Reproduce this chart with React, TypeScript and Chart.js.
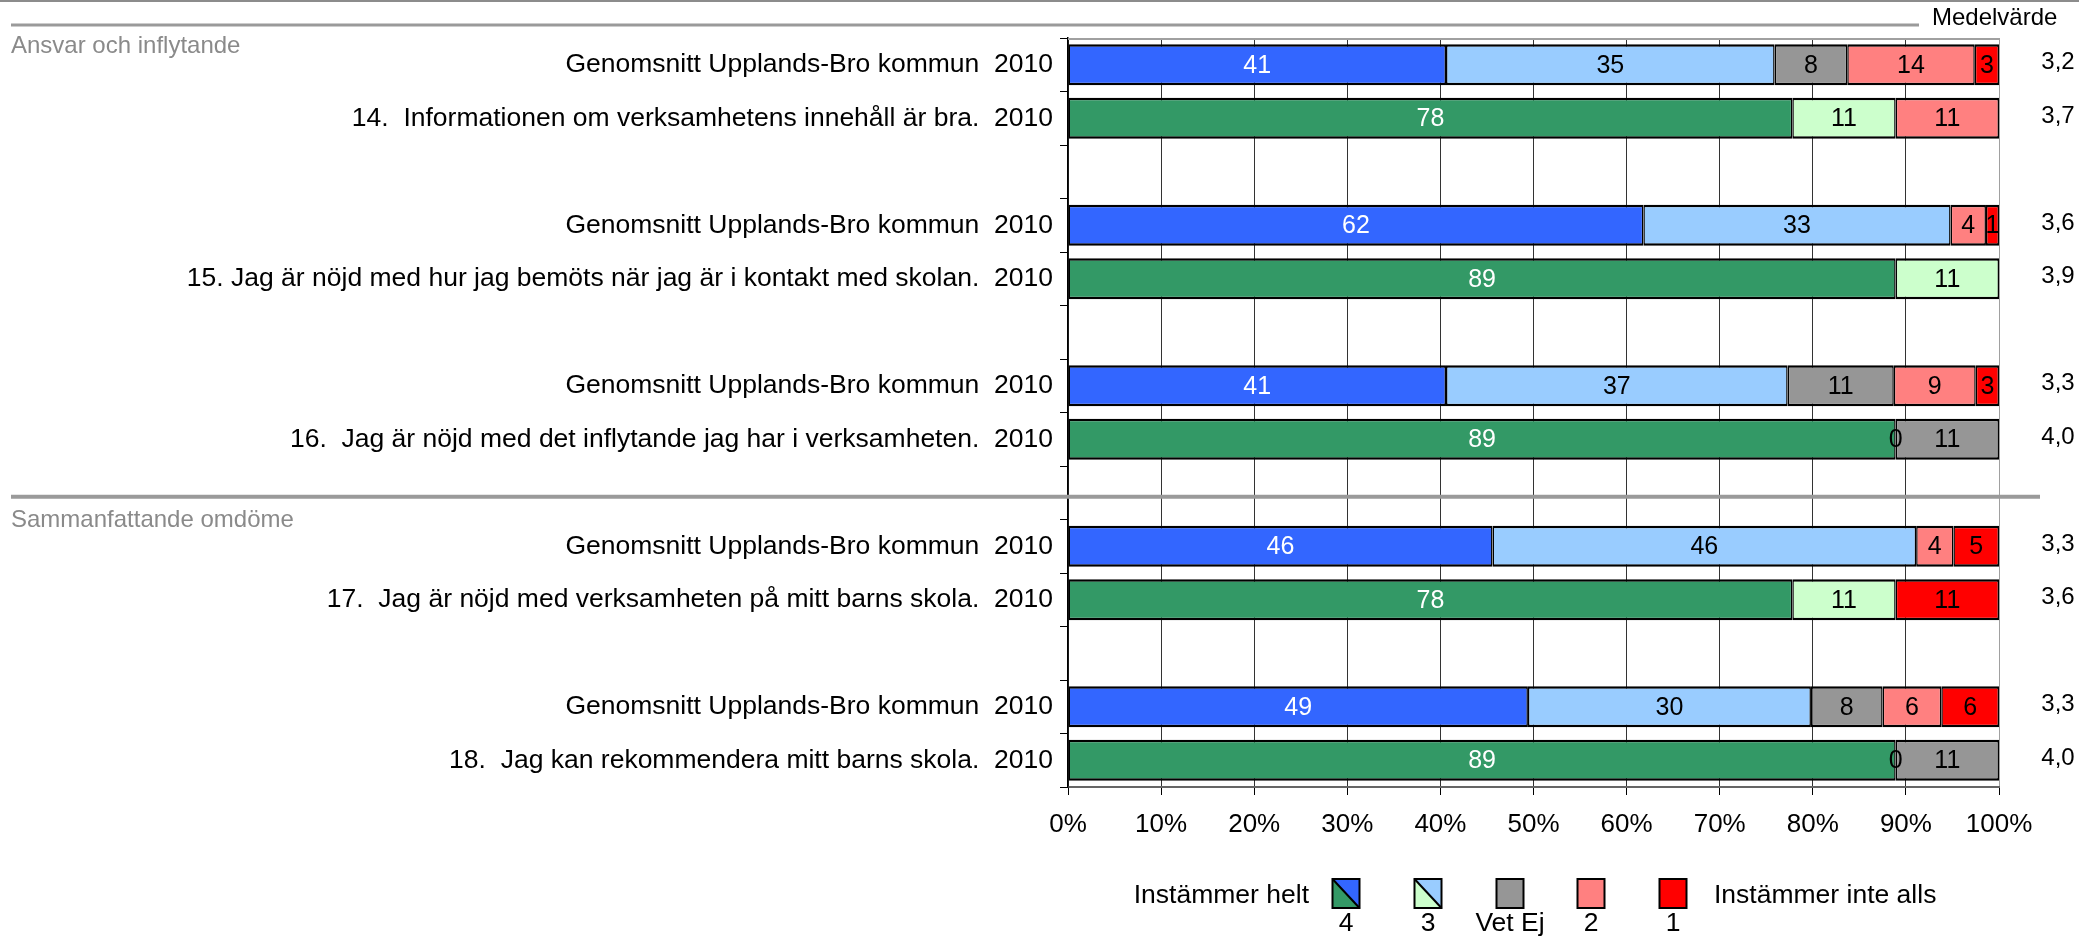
import React, { useEffect, useRef } from "react";
import { Chart, registerables } from "chart.js";

Chart.register(...registerables);

const FONT = "'Liberation Sans', Arial, Helvetica, sans-serif";

// ---- data ----
const rowLabels = [
  "Genomsnitt Upplands-Bro kommun  2010",
  "14.  Informationen om verksamhetens innehåll är bra.  2010",
  "",
  "Genomsnitt Upplands-Bro kommun  2010",
  "15. Jag är nöjd med hur jag bemöts när jag är i kontakt med skolan.  2010",
  "",
  "Genomsnitt Upplands-Bro kommun  2010",
  "16.  Jag är nöjd med det inflytande jag har i verksamheten.  2010",
  "",
  "Genomsnitt Upplands-Bro kommun  2010",
  "17.  Jag är nöjd med verksamheten på mitt barns skola.  2010",
  "",
  "Genomsnitt Upplands-Bro kommun  2010",
  "18.  Jag kan rekommendera mitt barns skola.  2010",
];
const rowKinds = ["avg", "q", "", "avg", "q", "", "avg", "q", "", "avg", "q", "", "avg", "q"];

const seriesNames = ["4", "3", "Vet Ej", "2", "1"];
const s4 = [40.6, 77.8, null, 61.8, 88.9, null, 40.6, 88.9, null, 45.6, 77.8, null, 49.4, 88.9];
const s3 = [35.3, 11.1, null, 33.0, 11.1, null, 36.7, 0, null, 45.5, 11.1, null, 30.4, 0];
const sVetEj = [7.8, null, null, null, null, null, 11.4, 11.1, null, null, null, null, 7.7, 11.1];
const s2 = [13.7, 11.1, null, 3.8, null, null, 8.8, null, null, 4.0, null, null, 6.3, null];
const s1 = [2.6, null, null, 1.4, null, null, 2.5, null, null, 4.9, 11.1, null, 6.2, null];

const means = ["3,2", "3,7", "", "3,6", "3,9", "", "3,3", "4,0", "", "3,3", "3,6", "", "3,3", "4,0"];

const xTicks = [0, 10, 20, 30, 40, 50, 60, 70, 80, 90, 100];

const sections = [
  { label: "Ansvar och inflytande", row: 0 },
  { label: "Sammanfattande omdöme", row: 9 },
];

const legendLeftText = "Instämmer helt";
const legendRightText = "Instämmer inte alls";
const meanHeader = "Medelvärde";

// ---- colours ----
const C_BLUE = "#3366FF";
const C_GREEN = "#339966";
const C_LBLUE = "#99CCFF";
const C_LGREEN = "#CCFFCC";
const C_GRAY = "#969696";
const C_SALMON = "#FF8080";
const C_RED = "#FF0000";

const seriesData = [s4, s3, sVetEj, s2, s1];
const seriesColors = [
  rowKinds.map((k) => (k === "avg" ? C_BLUE : C_GREEN)),
  rowKinds.map((k) => (k === "avg" ? C_LBLUE : C_LGREEN)),
  rowKinds.map(() => C_GRAY),
  rowKinds.map(() => C_SALMON),
  rowKinds.map(() => C_RED),
];

const dataLabelPlugin = {
  id: "dataLabels",
  afterDatasetsDraw(chart: any) {
    const ctx = chart.ctx;
    ctx.save();
    ctx.font = `25px ${FONT}`;
    ctx.textAlign = "center";
    ctx.textBaseline = "middle";
    chart.data.datasets.forEach((ds: any, di: number) => {
      const meta = chart.getDatasetMeta(di);
      meta.data.forEach((el: any, i: number) => {
        const v = ds.data[i];
        if (v === null || v === undefined) return;
        const cx = (el.x + el.base) / 2;
        ctx.fillStyle = di === 0 ? "#FFFFFF" : "#000000";
        ctx.fillText(String(Math.round(v)), cx, el.y + 1);
      });
    });
    ctx.restore();
  },
};

const decorPlugin = {
  id: "decor",
  afterDraw(chart: any) {
    const ctx = chart.ctx;
    const area = chart.chartArea;
    const yScale = chart.scales.y;
    ctx.save();

    // top thin line
    ctx.strokeStyle = "#8c8c8c";
    ctx.lineWidth = 2;
    ctx.beginPath();
    ctx.moveTo(0, 1);
    ctx.lineTo(2079, 1);
    ctx.stroke();

    // header line
    ctx.strokeStyle = "#9a9a9a";
    ctx.lineWidth = 3;
    ctx.beginPath();
    ctx.moveTo(11, 25);
    ctx.lineTo(1919, 25);
    ctx.stroke();

    // header text
    ctx.fillStyle = "#000";
    ctx.font = `24px ${FONT}`;
    ctx.textAlign = "left";
    ctx.textBaseline = "middle";
    ctx.fillText(meanHeader, 1932, 18);

    // plot top border
    ctx.strokeStyle = "#a0a0a0";
    ctx.lineWidth = 2;
    ctx.beginPath();
    ctx.moveTo(area.left, area.top + 1);
    ctx.lineTo(area.right, area.top + 1);
    ctx.stroke();

    // section divider(s) & labels
    const step = (area.bottom - area.top) / rowLabels.length;
    sections.forEach((s, i) => {
      const slotTop = area.top + s.row * step;
      if (i > 0) {
        const dy = slotTop - step / 2 + 4;
        ctx.strokeStyle = "#9a9a9a";
        ctx.lineWidth = 4;
        ctx.beginPath();
        ctx.moveTo(11, dy);
        ctx.lineTo(2040, dy);
        ctx.stroke();
      }
      ctx.fillStyle = "#8a8a8a";
      ctx.font = `24px ${FONT}`;
      ctx.textAlign = "left";
      ctx.textBaseline = "middle";
      ctx.fillText(s.label, 11, i === 0 ? slotTop + 8 : slotTop + 1);
    });

    // mean values
    ctx.fillStyle = "#000";
    ctx.font = `24px ${FONT}`;
    ctx.textAlign = "center";
    ctx.textBaseline = "middle";
    means.forEach((m, i) => {
      if (!m) return;
      ctx.fillText(m, 2058, yScale.getPixelForValue(i) - 2);
    });

    // legend
    const boxW = 27;
    const boxH = 29;
    const boxTop = 879;
    const centers = [1346, 1428, 1510, 1591, 1673];
    ctx.font = `26.5px ${FONT}`;
    ctx.fillStyle = "#000";
    ctx.textBaseline = "middle";
    ctx.textAlign = "right";
    ctx.fillText(legendLeftText, 1309, 896);
    ctx.textAlign = "left";
    ctx.fillText(legendRightText, 1714, 896);
    centers.forEach((cx, i) => {
      const x0 = cx - boxW / 2;
      const y0 = boxTop;
      const colors = seriesColors[i];
      const avgIdx = rowKinds.indexOf("avg");
      const qIdx = rowKinds.indexOf("q");
      const cA = colors[avgIdx];
      const cQ = colors[qIdx];
      if (cA !== cQ) {
        ctx.fillStyle = cA;
        ctx.beginPath();
        ctx.moveTo(x0, y0);
        ctx.lineTo(x0 + boxW, y0);
        ctx.lineTo(x0 + boxW, y0 + boxH);
        ctx.closePath();
        ctx.fill();
        ctx.fillStyle = cQ;
        ctx.beginPath();
        ctx.moveTo(x0, y0);
        ctx.lineTo(x0, y0 + boxH);
        ctx.lineTo(x0 + boxW, y0 + boxH);
        ctx.closePath();
        ctx.fill();
        ctx.strokeStyle = "#000";
        ctx.lineWidth = 2;
        ctx.beginPath();
        ctx.moveTo(x0, y0);
        ctx.lineTo(x0 + boxW, y0 + boxH);
        ctx.stroke();
      } else {
        ctx.fillStyle = cA;
        ctx.fillRect(x0, y0, boxW, boxH);
      }
      ctx.strokeStyle = "#000";
      ctx.lineWidth = 2;
      ctx.strokeRect(x0, y0, boxW, boxH);
      ctx.fillStyle = "#000";
      ctx.textAlign = "center";
      ctx.fillText(seriesNames[i], cx, 924);
    });

    ctx.restore();
  },
};

export default function App() {
  const canvasRef = useRef<HTMLCanvasElement | null>(null);

  useEffect(() => {
    if (!canvasRef.current) return;
    const datasets = seriesNames.map((name, i) => ({
      label: name,
      data: seriesData[i],
      backgroundColor: seriesColors[i],
      borderColor: "#000000",
      borderWidth: { top: 2.5, bottom: 2.5, left: 1.5, right: 1.5 },
      borderSkipped: false,
      barPercentage: 0.77,
      categoryPercentage: 1,
    }));

    const chart = new Chart(canvasRef.current, {
      type: "bar",
      data: { labels: rowLabels, datasets: datasets as any },
      options: {
        indexAxis: "y",
        responsive: false,
        animation: false,
        layout: { padding: { left: 0, right: 97, top: 38, bottom: 0 } },
        plugins: {
          legend: { display: false },
          tooltip: { enabled: false },
        },
        scales: {
          x: {
            stacked: true,
            min: 0,
            max: 100,
            afterBuildTicks: (scale: any) => {
              scale.ticks = xTicks.map((v) => ({ value: v }));
            },
            ticks: {
              callback: (v: any) => v + "%",
              color: "#000",
              font: { size: 26, family: FONT },
              padding: 14,
              maxRotation: 0,
              autoSkip: false,
            },
            grid: {
              color: (c: any) => (c.tick && c.tick.value === 100 ? "#a0a0a0" : "#333333"),
              lineWidth: 1,
              tickLength: 8,
              tickColor: "#000",
            },
            border: { color: "#666666", width: 2 },
            afterFit: (s: any) => {
              s.height = 149;
            },
          },
          y: {
            stacked: true,
            ticks: {
              color: "#000",
              font: { size: 26.5, family: FONT },
              padding: 7,
              autoSkip: false,
            },
            grid: {
              drawOnChartArea: false,
              tickLength: 8,
              tickColor: "#000",
              offset: true,
            },
            border: { color: "#000", width: 1.5 },
            afterFit: (s: any) => {
              s.width = 1068;
            },
          },
        },
      } as any,
      plugins: [dataLabelPlugin, decorPlugin],
    });
    return () => chart.destroy();
  }, []);

  return (
    <div style={{ position: "absolute", left: 0, top: 0, width: 2096, height: 936, background: "#fff" }}>
      <canvas ref={canvasRef} width={2096} height={936} style={{ display: "block" }} />
    </div>
  );
}
